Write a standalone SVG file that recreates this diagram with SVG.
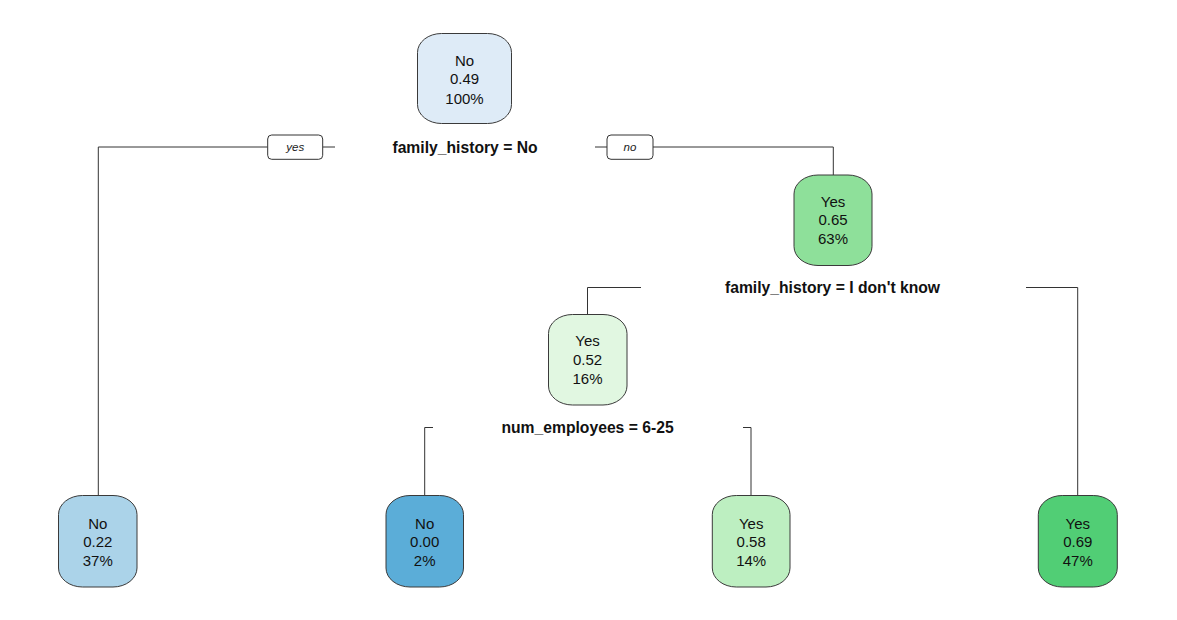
<svg xmlns="http://www.w3.org/2000/svg" width="1177" height="620" viewBox="0 0 1177 620">
<style>
.node{stroke:#3a3a3a;stroke-width:1}
.t{font-family:"Liberation Sans",Arial,sans-serif;font-size:15px;fill:#111;text-anchor:middle}
.split{font-family:"Liberation Sans",Arial,sans-serif;font-size:15.7px;font-weight:bold;fill:#111;text-anchor:middle}
.lbl{font-family:"Liberation Sans",Arial,sans-serif;font-size:11.5px;font-style:italic;fill:#222;text-anchor:middle}
.conn path{fill:none;stroke:#333;stroke-width:1}
.lb{fill:#fff;stroke:#333;stroke-width:1}
</style>
<rect width="1177" height="620" fill="#fff"/>
<g id="connectors" class="conn">
<path d="M98.3,495 V147 H267.7"/>
<path d="M322.7,147 H335"/>
<path d="M595,147 H607"/>
<path d="M653,147 H833.3 V175"/>
<path d="M641,287.5 H587.5 V314"/>
<path d="M1026,287.5 H1077.7 V495"/>
<path d="M433,427.5 H424.7 V495"/>
<path d="M743,427.5 H751 V495"/>
<rect class="lb" x="267.7" y="135" width="55" height="24.3" rx="4"/>
<text class="lbl" x="295.2" y="151">yes</text>
<rect class="lb" x="607" y="135" width="46" height="24.3" rx="4"/>
<text class="lbl" x="630" y="151">no</text>
</g>
<g id="split1"><text class="split" x="465" y="152.6">family_history = No</text></g>
<g id="split2"><text class="split" x="832.5" y="293">family_history = I don't know</text></g>
<g id="split3"><text class="split" x="587.5" y="433">num_employees = 6-25</text></g>
<g id="n1">
<rect class="node" x="417.5" y="33.5" width="94" height="90" rx="24" ry="19" fill="#DEEBF7"/>
<text class="t" x="464.5" y="66">No</text><text class="t" x="464.5" y="84">0.49</text><text class="t" x="464.5" y="103.5">100%</text>
</g>
<g id="n3">
<rect class="node" x="794" y="175" width="78" height="90.5" rx="24" ry="19" fill="#8EE09A"/>
<text class="t" x="833" y="206.5">Yes</text><text class="t" x="833" y="225">0.65</text><text class="t" x="833" y="244">63%</text>
</g>
<g id="n6">
<rect class="node" x="548.5" y="314.5" width="78.5" height="90.5" rx="24" ry="19" fill="#E1F7E1"/>
<text class="t" x="587.5" y="346">Yes</text><text class="t" x="587.5" y="365">0.52</text><text class="t" x="587.5" y="383.5">16%</text>
</g>
<g id="n2">
<rect class="node" x="58.5" y="495.5" width="78.5" height="91.5" rx="24" ry="19" fill="#ABD3E9"/>
<text class="t" x="97.8" y="528.5">No</text><text class="t" x="97.8" y="547">0.22</text><text class="t" x="97.8" y="566">37%</text>
</g>
<g id="n12">
<rect class="node" x="386" y="495.5" width="77.5" height="91.5" rx="24" ry="19" fill="#5BADD8"/>
<text class="t" x="424.7" y="528.5">No</text><text class="t" x="424.7" y="547">0.00</text><text class="t" x="424.7" y="566">2%</text>
</g>
<g id="n13">
<rect class="node" x="712.3" y="495.5" width="77.7" height="91.5" rx="24" ry="19" fill="#BDEFC1"/>
<text class="t" x="751.2" y="528.5">Yes</text><text class="t" x="751.2" y="547">0.58</text><text class="t" x="751.2" y="566">14%</text>
</g>
<g id="n7">
<rect class="node" x="1038.3" y="495.5" width="79" height="91.5" rx="24" ry="19" fill="#51CE75"/>
<text class="t" x="1077.8" y="528.5">Yes</text><text class="t" x="1077.8" y="547">0.69</text><text class="t" x="1077.8" y="566">47%</text>
</g>
</svg>
